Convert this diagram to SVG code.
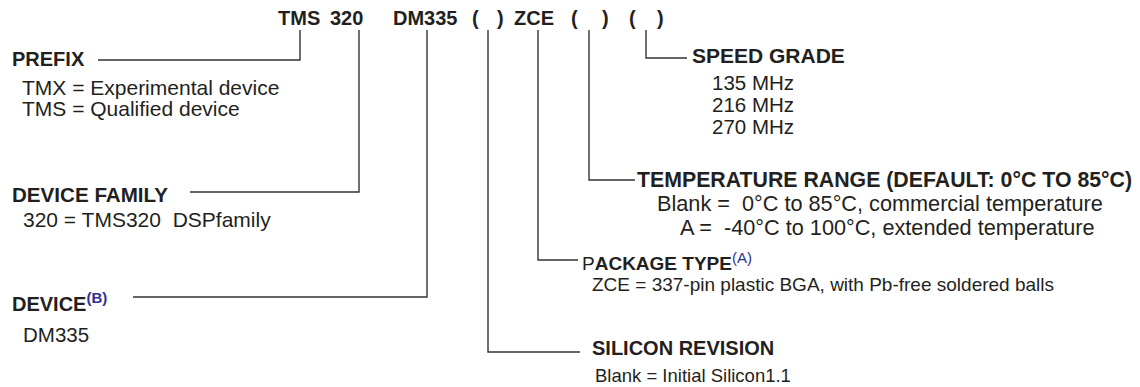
<svg xmlns="http://www.w3.org/2000/svg" width="1140" height="387" viewBox="0 0 1140 387">
<style>
text{font-family:"Liberation Sans",Arial,Helvetica,sans-serif;fill:#231f20}
.t{font-size:20px;font-weight:bold}
.h{font-size:20px;font-weight:bold}
.b{font-size:20.5px}
.sup{font-size:15px;fill:#2e3192}
.c{fill:none;stroke:#333;stroke-width:1.4}
</style>
<rect width="1140" height="387" fill="#fff"/>
<g id="title">
<text class="t" x="278" y="25">TMS</text>
<text class="t" x="330" y="25">320</text>
<text class="t" x="393" y="25">DM335</text>
<text class="t" x="472" y="25">(</text>
<text class="t" x="497" y="25">)</text>
<text class="t" x="514" y="25">ZCE</text>
<text class="t" x="571" y="25">(</text>
<text class="t" x="602" y="25">)</text>
<text class="t" x="629" y="25">(</text>
<text class="t" x="657" y="25">)</text>
</g>
<g id="connectors">
<polyline class="c" points="300,30 300,60 98,60"/>
<polyline class="c" points="359,30 359,192 190,192"/>
<polyline class="c" points="427,30 427,297 133,297"/>
<polyline class="c" points="488,30 488,352 580,352"/>
<polyline class="c" points="538,30 538,260 578,260"/>
<polyline class="c" points="589,30 589,180 635,180"/>
<polyline class="c" points="646,30 646,58 687,58"/>
</g>
<g id="prefix">
<text class="h" x="12" y="66">PREFIX</text>
<text class="b" x="22" y="95" style="font-size:21px">TMX = Experimental device</text>
<text class="b" x="22" y="116" style="font-size:21px">TMS = Qualified device</text>
</g>
<g id="device-family">
<text class="h" x="12" y="202" style="font-size:20.6px">DEVICE FAMILY</text>
<text class="b" x="23" y="227" style="font-size:21px" xml:space="preserve">320 = TMS320  DSPfamily</text>
</g>
<g id="device">
<text class="h" x="12" y="311">DEVICE<tspan class="sup" dy="-8">(B)</tspan></text>
<text class="b" x="23" y="342">DM335</text>
</g>
<g id="speed-grade">
<text class="h" x="692" y="63" style="font-size:21px">SPEED GRADE</text>
<text class="b" x="712" y="90">135 MHz</text>
<text class="b" x="712" y="112">216 MHz</text>
<text class="b" x="712" y="134">270 MHz</text>
</g>
<g id="temperature-range">
<text class="h" x="637" y="187" style="font-size:21.3px">TEMPERATURE RANGE (DEFAULT: 0°C TO 85°C)</text>
<text class="b" x="657" y="211" style="font-size:21.7px" xml:space="preserve">Blank =  0°C to 85°C, commercial temperature</text>
<text class="b" x="680" y="235" style="font-size:21.7px" xml:space="preserve">A =  -40°C to 100°C, extended temperature</text>
</g>
<g id="package-type">
<text class="h" x="582" y="270" style="font-size:19px"><tspan style="font-weight:normal">P</tspan>ACKAGE TYPE<tspan class="sup" style="font-weight:normal" dy="-7">(A)</tspan></text>
<text class="b" x="592" y="291" style="font-size:19px">ZCE = 337-pin plastic BGA, with Pb-free soldered balls</text>
</g>
<g id="silicon-revision">
<text class="h" x="592" y="355">SILICON REVISION</text>
<text class="b" x="595" y="382" style="font-size:18.5px">Blank = Initial Silicon1.1</text>
</g>
</svg>
